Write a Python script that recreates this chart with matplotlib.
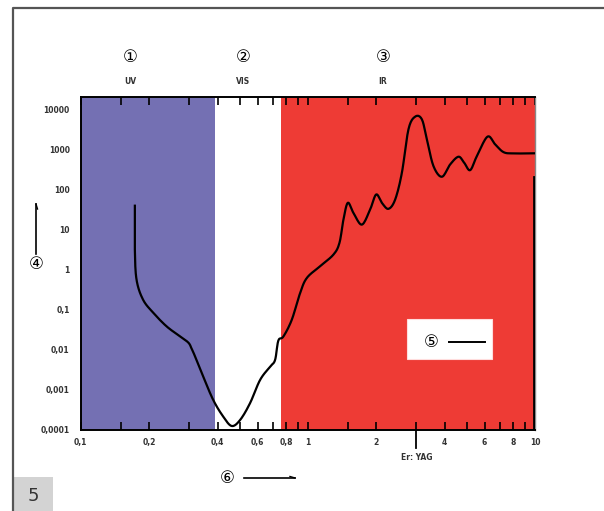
import numpy as np
import matplotlib
matplotlib.use("Agg")
import matplotlib.pyplot as plt
from matplotlib.patches import Rectangle
from matplotlib.lines import Line2D
import matplotlib.transforms as mtransforms

# ---------------- data ----------------
wavelength_um = [0.173, 0.173, 0.176, 0.188, 0.209, 0.239, 0.274, 0.298, 0.308, 0.318, 0.346,
                 0.383, 0.424, 0.462, 0.503, 0.556, 0.616, 0.682, 0.717, 0.741, 0.780,
                 0.849, 0.924, 0.989, 1.13, 1.295, 1.377, 1.434, 1.499, 1.586, 1.728,
                 1.879, 1.998, 2.117, 2.262, 2.422, 2.593, 2.772, 2.967, 3.176, 3.341,
                 3.573, 3.891, 4.231, 4.603, 4.877, 5.182, 5.546, 6.176, 6.678, 7.265,
                 8.04, 10.0]
absorption = [42, 3.16, 0.56, 0.178, 0.0827, 0.0382, 0.0215, 0.0150, 0.0105, 0.0070, 0.00215,
              0.00056, 0.000215, 0.000126, 0.000178, 0.000465, 0.00178, 0.00382, 0.0056, 0.0170, 0.0215,
              0.056, 0.26, 0.62, 1.21, 2.37, 4.65, 17.8, 46.5, 26.2, 13.3,
              31.6, 75, 46.5, 32.9, 56, 261, 3162, 6570, 5620, 1778,
              382, 208, 422, 657, 465, 304, 680, 2078, 1334, 856,
              794, 800]
edge_x = [9.85, 9.85]
edge_y = [200, 1.0e-4]

band_names = ["UV", "VIS", "IR"]
band_limits = [(0.1, 0.39), (0.39, 0.76), (0.76, 10.0)]
band_colors = ["#7470B3", "#FFFFFF", "#EE3B35"]

xtick_major = [0.1, 0.2, 0.4, 0.6, 0.8, 1, 2, 4, 6, 8, 10]
xtick_labels = ["0,1", "0,2", "0,4", "0,6", "0,8", "1", "2", "4", "6", "8", "10"]
xtick_minor = [0.15, 0.3, 0.5, 0.7, 0.9, 1.5, 3, 5, 7, 9]
ytick_vals = [1e-4, 1e-3, 1e-2, 1e-1, 1, 10, 100, 1000, 10000]
ytick_labels = ["0,0001", "0,001", "0,01", "0,1", "1", "10", "100", "1000", "10000"]
laser_x = 3.0
laser_label = "Er: YAG"

# ---------------- helpers ----------------
def smooth(xs, ys, n=12):
    lx = np.log10(np.asarray(xs, float))
    ly = np.log10(np.asarray(ys, float))
    P = np.column_stack([lx, ly])
    P = np.vstack([P[0], P, P[-1]])
    out = []
    for i in range(1, len(P) - 2):
        p0, p1, p2, p3 = P[i - 1], P[i], P[i + 1], P[i + 2]
        t = np.linspace(0, 1, n, endpoint=False)[:, None]
        pt = 0.5 * ((2 * p1) + (-p0 + p2) * t + (2 * p0 - 5 * p1 + 4 * p2 - p3) * t ** 2
                    + (-p0 + 3 * p1 - 3 * p2 + p3) * t ** 3)
        out.append(pt)
    out.append(P[-2][None, :])
    out = np.vstack(out)
    return 10 ** out[:, 0], 10 ** out[:, 1]

W, H = 604, 511
fig = plt.figure(figsize=(W / 100, H / 100), dpi=100)
fig.patch.set_facecolor("white")

def fx(px):
    return px / W

def fy(py):
    return 1 - py / H

ax = fig.add_axes([fx(80.8), fy(430), fx(535) - fx(80.8), fy(97.3) - fy(430)])
ax.set_xscale("log")
ax.set_yscale("log")
ax.set_xlim(0.1, 10)
ax.set_ylim(1e-4, 10 ** 4.3)

for (a, b), c in zip(band_limits, band_colors):
    ax.axvspan(a, b, color=c, lw=0, zorder=0)

sx, sy = smooth(wavelength_um, absorption)
ax.plot(sx, sy, color="black", lw=1.6, zorder=3, solid_capstyle="butt")
ax.plot(edge_x, edge_y, color="black", lw=2.0, zorder=3)

# ticks
ax.set_xticks(xtick_major)
ax.set_xticklabels(xtick_labels)
ax.set_xticks(xtick_minor, minor=True)
ax.xaxis.set_minor_formatter(matplotlib.ticker.NullFormatter())
ax.tick_params(axis="x", which="both", direction="in", top=True, bottom=True,
               length=6, width=1.2, color="black", pad=6)
ax.tick_params(axis="x", which="major", labelsize=5.5)
for lab in ax.get_xticklabels():
    lab.set_fontweight("bold")
    lab.set_color("#333333")
ax.set_yticks(ytick_vals)
ax.set_yticklabels(ytick_labels)
ax.yaxis.set_minor_locator(matplotlib.ticker.NullLocator())
ax.tick_params(axis="y", which="both", length=0, pad=8, labelsize=5.5)
for lab in ax.get_yticklabels():
    lab.set_fontweight("bold")
    lab.set_color("#333333")

for s in ["left", "top", "bottom"]:
    ax.spines[s].set_color("black")
    ax.spines[s].set_linewidth(1.4)
ax.spines["right"].set_color("#888888")
ax.spines["right"].set_linewidth(1.0)

# Er:YAG marker tick
trans = mtransforms.blended_transform_factory(ax.transData, ax.transAxes)
ax.plot([laser_x, laser_x], [0, -0.055], transform=trans, color="black", lw=1.3, clip_on=False)
ax.text(laser_x, -0.068, laser_label, transform=trans, ha="center", va="top",
        fontsize=5.5, fontweight="bold", color="#333333")

circ_font = ["DejaVu Sans", "Noto Sans CJK SC"]

# band labels
for name, cx, num in zip(band_names, [130, 243, 383], ["\u2460", "\u2461", "\u2462"]):
    fig.text(fx(cx), fy(57), num, ha="center", va="center", fontsize=12, family=circ_font)
    fig.text(fx(cx), fy(82), name, ha="center", va="center", fontsize=5.5,
             fontweight="bold", color="#333333")

# (4) with arrow
fig.text(fx(36), fy(264), "\u2463", ha="center", va="center", fontsize=12, family=circ_font)
fig.add_artist(Line2D([fx(36), fx(36)], [fy(254), fy(204)], color="black", lw=1.2))
fig.add_artist(Line2D([fx(36), fx(37.5)], [fy(204), fy(209)], color="black", lw=1.0))

# legend box (5)
fig.add_artist(Rectangle((fx(406.7), fy(359)), fx(492.3) - fx(406.7), fy(319.3) - fy(359),
                         facecolor="white", edgecolor="#ffdddd", lw=0.8, zorder=5))
fig.text(fx(431), fy(342), "\u2464", ha="center", va="center", fontsize=12,
         family=circ_font, zorder=6)
fig.add_artist(Line2D([fx(449), fx(485)], [fy(342), fy(342)], color="black", lw=1.4, zorder=6))

# (6) with arrow
fig.text(fx(227), fy(478), "\u2465", ha="center", va="center", fontsize=12, family=circ_font)
fig.add_artist(Line2D([fx(244), fx(295)], [fy(478), fy(478)], color="black", lw=1.2))
fig.add_artist(Line2D([fx(290), fx(295)], [fy(476.5), fy(478)], color="black", lw=1.0))

# outer frame
fig.add_artist(Line2D([fx(12.7), fx(12.7), fx(604)], [fy(511), fy(8.3), fy(8.3)],
                      color="#555555", lw=1.6))
fig.add_artist(Rectangle((fx(14), fy(511)), fx(53) - fx(14), fy(477) - fy(511),
                         facecolor="#d3d3d3", edgecolor="none"))
fig.text(fx(33), fy(496), "5", ha="center", va="center", fontsize=13, color="#333333")

fig.savefig("out.png", dpi=100)
